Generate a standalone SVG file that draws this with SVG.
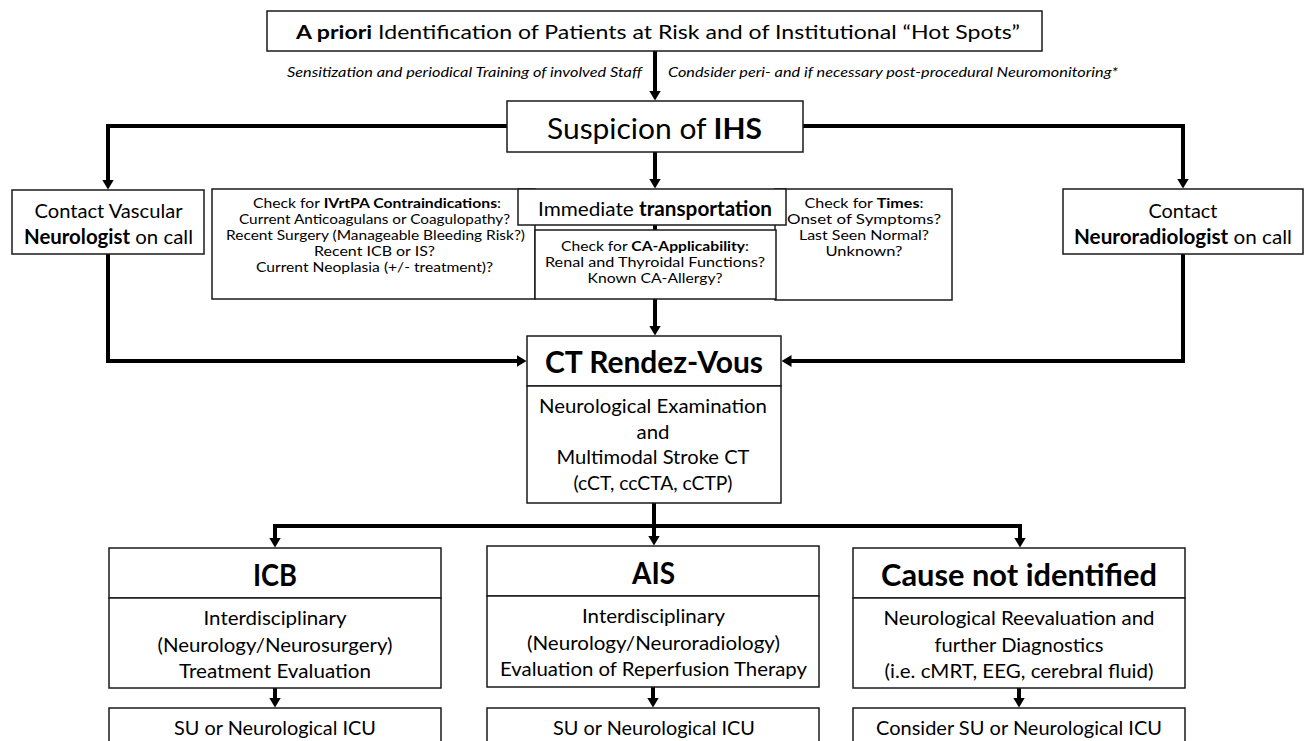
<svg xmlns="http://www.w3.org/2000/svg" width="1309" height="741" viewBox="0 0 1309 741">
<style>
.box{fill:#fff;stroke:#1a1a1a;stroke-width:1.5}
.conn{fill:none;stroke:#000;stroke-width:4}
.arr{marker-end:url(#ah)}
text{font-family:Lato,"Liberation Sans",sans-serif;fill:#000;text-anchor:middle}
.s{font-size:14px}
.m{font-size:20px}
.h{font-size:30px;font-weight:bold}
.it{font-size:13px;font-style:italic;text-anchor:start}
.b{font-weight:bold}
</style>
<defs>
<marker id="ah" markerUnits="userSpaceOnUse" viewBox="0 0 10 12" markerWidth="10" markerHeight="12" refX="0.5" refY="6" orient="auto">
<path d="M0,0 L10,6 L0,12 z" fill="#000"/>
</marker>
</defs>

<g id="connectors">
<path class="conn arr" d="M655,51 V91"/>
<path class="conn arr" d="M655,152 V179"/>
<path class="conn" d="M655,225 V230"/>
<path class="conn arr" d="M655,299 V326"/>
<path class="conn arr" d="M507,126 H108 V180"/>
<path class="conn arr" d="M803,126 H1183 V179"/>
<path class="conn arr" d="M108,254 V361 H517"/>
<path class="conn arr" d="M1183,254 V361 H791"/>
<path class="conn arr" d="M654,503 V536"/>
<path class="conn" d="M273,526 H1022"/>
<path class="conn arr" d="M275,526 V538"/>
<path class="conn arr" d="M1020,526 V538"/>
<path class="conn arr" d="M275,688 V698"/>
<path class="conn arr" d="M653,687 V698"/>
<path class="conn arr" d="M1019,688 V698"/>
</g>

<g id="n-apriori">
<rect class="box" x="267" y="11" width="775" height="40"/>
<text x="658" y="39" font-size="19" textLength="724" lengthAdjust="spacingAndGlyphs"><tspan class="b">A priori</tspan> Identification of Patients at Risk and of Institutional “Hot Spots”</text>
</g>

<g id="l-sensitization">
<text class="it" x="287" y="77" textLength="355" lengthAdjust="spacingAndGlyphs">Sensitization and periodical Training of involved Staff</text>
</g>
<g id="l-neuromonitoring">
<text class="it" x="668" y="77" textLength="450" lengthAdjust="spacingAndGlyphs">Condsider peri- and if necessary post-procedural Neuromonitoring*</text>
</g>

<g id="n-suspicion">
<rect class="box" x="507" y="101" width="296" height="51"/>
<text x="654.5" y="139" font-size="28" textLength="215" lengthAdjust="spacingAndGlyphs">Suspicion of <tspan class="b">IHS</tspan></text>
</g>

<g id="n-neurologist">
<rect class="box" x="12" y="190" width="192" height="64"/>
<text class="m" x="108.5" y="218" textLength="148" lengthAdjust="spacingAndGlyphs">Contact Vascular</text>
<text class="m" x="108.5" y="244" textLength="169" lengthAdjust="spacingAndGlyphs"><tspan class="b">Neurologist</tspan> on call</text>
</g>

<g id="n-neuroradiologist">
<rect class="box" x="1063" y="189" width="240" height="65"/>
<text class="m" x="1183" y="218" textLength="69" lengthAdjust="spacingAndGlyphs">Contact</text>
<text class="m" x="1183" y="244" textLength="218" lengthAdjust="spacingAndGlyphs"><tspan class="b">Neuroradiologist</tspan> on call</text>
</g>

<g id="n-ivrtpa">
<rect class="box" x="212" y="189" width="323" height="110"/>
<text class="s" x="377" y="208" textLength="248" lengthAdjust="spacingAndGlyphs">Check for <tspan class="b">IVrtPA Contraindications</tspan>:</text>
<text class="s" x="374.5" y="224" textLength="271" lengthAdjust="spacingAndGlyphs">Current Anticoagulans or Coagulopathy?</text>
<text class="s" x="375.5" y="240" textLength="299" lengthAdjust="spacingAndGlyphs">Recent Surgery (Manageable Bleeding Risk?)</text>
<text class="s" x="374.5" y="256" textLength="121" lengthAdjust="spacingAndGlyphs">Recent ICB or IS?</text>
<text class="s" x="374.5" y="272" textLength="237" lengthAdjust="spacingAndGlyphs">Current Neoplasia (+/- treatment)?</text>
</g>

<g id="n-times">
<rect class="box" x="775" y="189" width="177" height="111"/>
<text class="s" x="864" y="208" textLength="119" lengthAdjust="spacingAndGlyphs">Check for <tspan class="b">Times</tspan>:</text>
<text class="s" x="864" y="224" textLength="154" lengthAdjust="spacingAndGlyphs">Onset of Symptoms?</text>
<text class="s" x="864" y="240" textLength="130" lengthAdjust="spacingAndGlyphs">Last Seen Normal?</text>
<text class="s" x="864" y="256" textLength="77" lengthAdjust="spacingAndGlyphs">Unknown?</text>
</g>

<g id="n-ca">
<rect class="box" x="535" y="230" width="241" height="69"/>
<text class="s" x="655" y="251" textLength="188" lengthAdjust="spacingAndGlyphs">Check for <tspan class="b">CA-Applicability</tspan>:</text>
<text class="s" x="655" y="267" textLength="220" lengthAdjust="spacingAndGlyphs">Renal and Thyroidal Functions?</text>
<text class="s" x="655" y="283" textLength="135" lengthAdjust="spacingAndGlyphs">Known CA-Allergy?</text>
</g>

<g id="n-transport">
<rect class="box" x="518" y="189" width="268" height="36"/>
<text class="m" x="655" y="216" textLength="234" lengthAdjust="spacingAndGlyphs">Immediate <tspan class="b">transportation</tspan></text>
</g>

<g id="n-ct">
<rect class="box" x="527" y="336" width="254" height="50"/>
<text class="h" x="654" y="373" textLength="218" lengthAdjust="spacingAndGlyphs">CT Rendez-Vous</text>
<rect class="box" x="527" y="386" width="254" height="117"/>
<text class="m" x="653" y="413" textLength="228" lengthAdjust="spacingAndGlyphs">Neurological Examination</text>
<text class="m" x="653" y="438.5" textLength="33" lengthAdjust="spacingAndGlyphs">and</text>
<text class="m" x="653" y="464" textLength="193" lengthAdjust="spacingAndGlyphs">Multimodal Stroke CT</text>
<text class="m" x="653" y="489.5" textLength="159" lengthAdjust="spacingAndGlyphs">(cCT, ccCTA, cCTP)</text>
</g>

<g id="n-icb">
<rect class="box" x="109" y="548" width="332" height="50"/>
<text class="h" x="275" y="586" textLength="44" lengthAdjust="spacingAndGlyphs">ICB</text>
<rect class="box" x="109" y="598" width="332" height="90"/>
<text class="m" x="275" y="625" textLength="143" lengthAdjust="spacingAndGlyphs">Interdisciplinary</text>
<text class="m" x="275" y="651.5" textLength="235" lengthAdjust="spacingAndGlyphs">(Neurology/Neurosurgery)</text>
<text class="m" x="275" y="678" textLength="192" lengthAdjust="spacingAndGlyphs">Treatment Evaluation</text>
</g>
<g id="n-icb-unit">
<rect class="box" x="109" y="708" width="332" height="60"/>
<text class="m" x="275" y="735" textLength="202" lengthAdjust="spacingAndGlyphs">SU or Neurological ICU</text>
</g>

<g id="n-ais">
<rect class="box" x="487" y="546" width="332" height="50"/>
<text class="h" x="653.5" y="584" textLength="43" lengthAdjust="spacingAndGlyphs">AIS</text>
<rect class="box" x="487" y="596" width="332" height="91"/>
<text class="m" x="653.5" y="623" textLength="143" lengthAdjust="spacingAndGlyphs">Interdisciplinary</text>
<text class="m" x="653.5" y="649.5" textLength="253" lengthAdjust="spacingAndGlyphs">(Neurology/Neuroradiology)</text>
<text class="m" x="653.5" y="676" textLength="307" lengthAdjust="spacingAndGlyphs">Evaluation of Reperfusion Therapy</text>
</g>
<g id="n-ais-unit">
<rect class="box" x="487" y="708" width="332" height="60"/>
<text class="m" x="654" y="735" textLength="202" lengthAdjust="spacingAndGlyphs">SU or Neurological ICU</text>
</g>

<g id="n-unknown">
<rect class="box" x="853" y="548" width="332" height="50"/>
<text class="h" x="1019" y="586" textLength="276" lengthAdjust="spacingAndGlyphs">Cause not identified</text>
<rect class="box" x="853" y="598" width="332" height="90"/>
<text class="m" x="1019" y="625" textLength="271" lengthAdjust="spacingAndGlyphs">Neurological Reevaluation and</text>
<text class="m" x="1019" y="651.5" textLength="169" lengthAdjust="spacingAndGlyphs">further Diagnostics</text>
<text class="m" x="1019" y="678" textLength="269" lengthAdjust="spacingAndGlyphs">(i.e. cMRT, EEG, cerebral fluid)</text>
</g>
<g id="n-unknown-unit">
<rect class="box" x="853" y="708" width="332" height="60"/>
<text class="m" x="1019" y="735" textLength="286" lengthAdjust="spacingAndGlyphs">Consider SU or Neurological ICU</text>
</g>
</svg>
